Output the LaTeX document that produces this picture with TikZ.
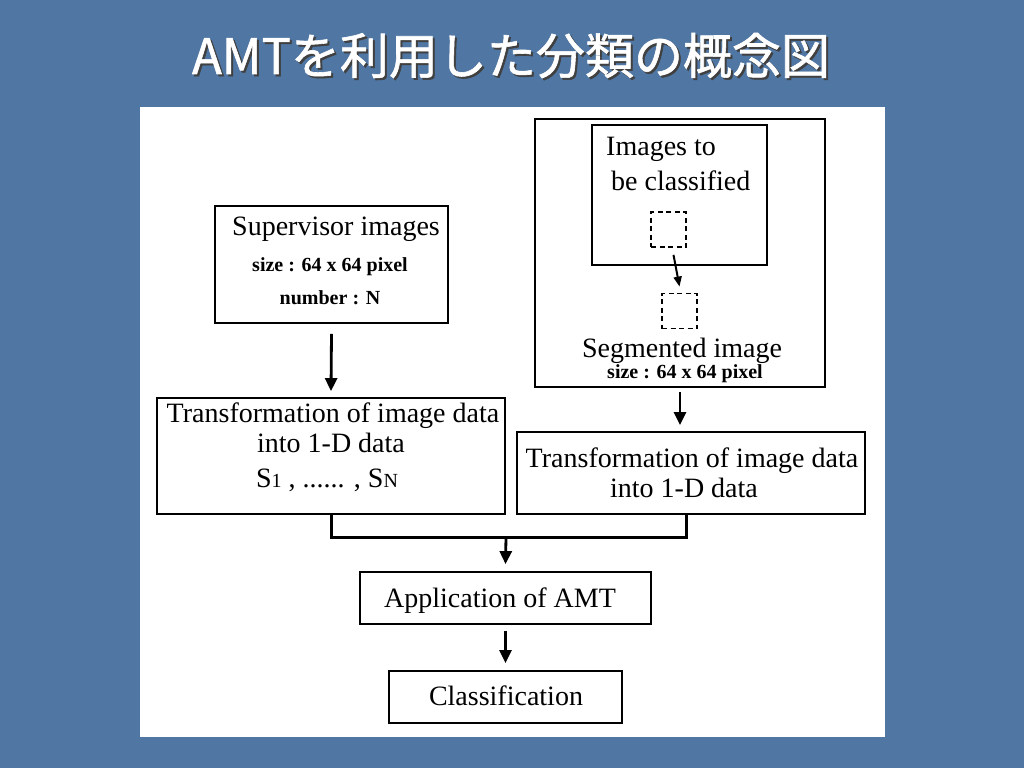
\documentclass[tikz,border=0pt]{standalone}
\usepackage{fontspec}
\setmainfont{Liberation Serif}
\newfontfamily\cjk[FakeBold=1.2]{Noto Sans CJK JP}
\usetikzlibrary{arrows.meta}
\definecolor{slide}{RGB}{80,118,163}
\begin{document}
\begin{tikzpicture}[x=1pt,y=-1pt,
  box/.style={draw,line width=1.8pt,inner sep=0pt},
  dbox/.style={draw,line width=1.8pt,dash pattern=on 5pt off 3.5pt,inner sep=0pt,
    minimum width=35,minimum height=35},
  big/.style={anchor=base,inner sep=0pt,font=\fontsize{28}{30}\selectfont},
  small/.style={anchor=base,inner sep=0pt,font=\bfseries\fontsize{20}{22}\selectfont},
  head/.style={anchor=base,font=\cjk\fontsize{49}{53}\selectfont},
  arr/.style={-{Triangle[length=13pt,width=12pt]},line width=2.8pt},
  link/.style={line width=3pt}]
  \fill[slide] (0,0) rectangle (1024,768);
  \fill[white] (140,107) rectangle (885,737);
  \node[head,text=black!75] (titleb) at (513,76) {AMTを利用した分類の概念図};
  \node[head,text=white] (title) at (511,74) {AMTを利用した分類の概念図};
  \node[box,minimum width=233,minimum height=117] (sup) at (331.5,264.5) {};
  \node[big] (supA) at (336,235) {Supervisor images};
  \node[small] (supB) at (330,271) {size : 64 x 64 pixel};
  \node[small] (supC) at (330,304) {number : N};
  \node[box,minimum width=348,minimum height=116] (trL) at (331,456) {};
  \node[big] (trLA) at (333,422) {Transformation of image data};
  \node[big] (trLB) at (331,452) {into 1-D data};
  \node[big] (trLC) at (327,487)
    {S{\fontsize{20}{22}\selectfont1} , ...... , S{\fontsize{20}{22}\selectfont N}};
  \node[box,minimum width=290,minimum height=268] (outer) at (680,253) {};
  \node[box,minimum width=175,minimum height=140] (inner) at (679.5,195) {};
  \node[big,anchor=base west] (inA) at (606,155) {Images to};
  \node[big,anchor=base west] (inB) at (611,190) {be classified};
  \node[dbox] (sq1) at (668.5,229.5) {};
  \node[dbox] (sq2) at (679.5,311) {};
  \node[big] (segA) at (682,357) {Segmented image};
  \node[small] (segB) at (685,378) {size : 64 x 64 pixel};
  \node[box,minimum width=348,minimum height=82] (trR) at (691,473) {};
  \node[big] (trRA) at (692,467) {Transformation of image data};
  \node[big] (trRB) at (684,497) {into 1-D data};
  \node[box,minimum width=291,minimum height=52] (app) at (505.5,598) {};
  \node[big] (appA) at (500,607) {Application of AMT};
  \node[box,minimum width=233,minimum height=52] (cls) at (505.5,697) {};
  \node[big] (clsA) at (506,705) {Classification};
  \coordinate (mid) at (506,537);
  \draw[arr] ([yshift=-10pt]sup.south) -- ([yshift=6pt]trL.north);
  \draw[-{Triangle[length=10pt,width=8pt]},line width=2pt]
    ([xshift=5pt,yshift=-7pt]sq1.south) -- ([yshift=6pt]sq2.north);
  \draw[arr] ([yshift=-4pt]outer.south) -- ([yshift=6pt]outer.south |- trR.north);
  \draw[link] (trL.south) |- (mid) -| ([xshift=-5pt]trR.south);
  \draw[arr] (mid) -- ([yshift=7pt]app.north);
  \draw[arr] ([yshift=-6pt]app.south) -- ([yshift=7pt]cls.north);
\end{tikzpicture}
\end{document}
